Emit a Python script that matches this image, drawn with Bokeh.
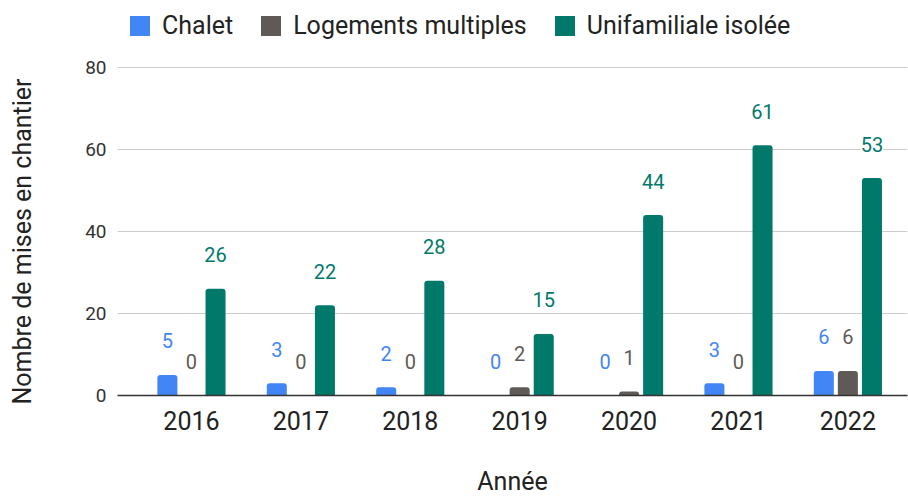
from bokeh.plotting import figure
from bokeh.models import Range1d, FixedTicker, ColumnDataSource, LabelSet, Legend, LegendItem, Title
from bokeh.transform import dodge
from bokeh.core.properties import value
from bokeh.embed import file_html
from bokeh.resources import INLINE

years = ["2016", "2017", "2018", "2019", "2020", "2021", "2022"]
chalet = [5, 3, 2, 0, 0, 3, 6]
logements = [0, 0, 0, 2, 1, 0, 6]
unifamiliale = [26, 22, 28, 15, 44, 61, 53]
series_names = ["Chalet", "Logements multiples", "Unifamiliale isolée"]
y_ticks = [0, 20, 40, 60, 80]

BLUE = "#4285F4"
GRAY = "#5F5A55"
TEAL = "#00796B"
FONT = "Roboto"

idx = list(range(len(years)))
src = ColumnDataSource(dict(
    x=idx,
    chalet=chalet, logements=logements, unif=unifamiliale,
    chalet_txt=[str(v) for v in chalet],
    logements_txt=[str(v) for v in logements],
    unif_txt=[str(v) for v in unifamiliale],
))

# the frame runs up to the top of the canvas so that the legend sits inside it
p = figure(width=908, height=498, output_backend="svg", toolbar_location=None,
           x_range=Range1d(-0.676, 6.545), y_range=Range1d(0, 96.3),
           min_border_left=117, min_border_right=1, min_border_top=0, min_border_bottom=102)
p.outline_line_color = None
p.background_fill_color = "white"
p.border_fill_color = "white"

p.xgrid.visible = False
p.ygrid.grid_line_color = "#cccccc"
p.ygrid.grid_line_width = 1

p.yaxis.ticker = FixedTicker(ticks=y_ticks)
p.xaxis.ticker = FixedTicker(ticks=idx)
p.xaxis.major_label_overrides = {i: y for i, y in zip(idx, years)}

for ax in (p.xaxis, p.yaxis):
    ax.major_tick_line_color = None
    ax.minor_tick_line_color = None
    ax.major_tick_out = 0
    ax.major_tick_in = 0
    ax.major_label_text_font = FONT
    ax.axis_label_text_font = FONT
    ax.axis_label_text_font_style = "normal"
    ax.axis_label_text_color = "#222222"

p.xaxis.axis_line_color = "#333333"
p.xaxis.axis_line_width = 1.3
p.xaxis.major_label_standoff = 15
p.xaxis.major_label_text_font_size = "25px"
p.xaxis.major_label_text_color = "#222222"
p.xaxis.axis_label = "Année"
p.xaxis.axis_label_text_font_size = "25px"
p.xaxis.axis_label_standoff = 34

p.yaxis.axis_line_color = None
p.yaxis.major_label_standoff = 11
p.yaxis.major_label_text_font_size = "19px"
p.yaxis.major_label_text_color = "#333333"
# blank axis label: only widens the axis panel so the title sits further left
p.yaxis.axis_label = " "
p.yaxis.axis_label_text_font_size = "25px"
p.yaxis.axis_label_standoff = 12

ytitle = Title(text="Nombre de mises en chantier", align="left", offset=-9,
               vertical_align="top", standoff=0,
               text_font=FONT, text_font_size="25px", text_font_style="normal",
               text_color="#222222")
p.add_layout(ytitle, "left")

off = 0.22
bw = 0.183
specs = [("chalet", -off, BLUE), ("logements", 0.0, GRAY), ("unif", off, TEAL)]
renderers = []
for field, dx, col in specs:
    r = p.vbar(x=dodge("x", dx, range=p.x_range), top=field, width=bw, source=src,
               fill_color=col, line_color=None, border_radius=(3, 3, 0, 0))
    renderers.append(r)
    labels = LabelSet(x=dodge("x", dx, range=p.x_range), y=field, text=field + "_txt", source=src,
                      y_offset=34, text_align="center", text_baseline="middle",
                      text_color=col, text_font=value(FONT), text_font_size="20px",
                      background_fill_color="white")
    p.add_layout(labels)

legend = Legend(items=[LegendItem(label=n, renderers=[r]) for n, r in zip(series_names, renderers)],
                orientation="horizontal", location=(10, 355), padding=0, margin=0,
                spacing=25, glyph_width=25, glyph_height=25, label_standoff=10,
                label_text_font=FONT, label_text_font_size="25px", label_text_color="#222222",
                border_line_color=None, background_fill_alpha=0)
p.add_layout(legend)

open("out.html", "w").write(file_html(p, INLINE))
